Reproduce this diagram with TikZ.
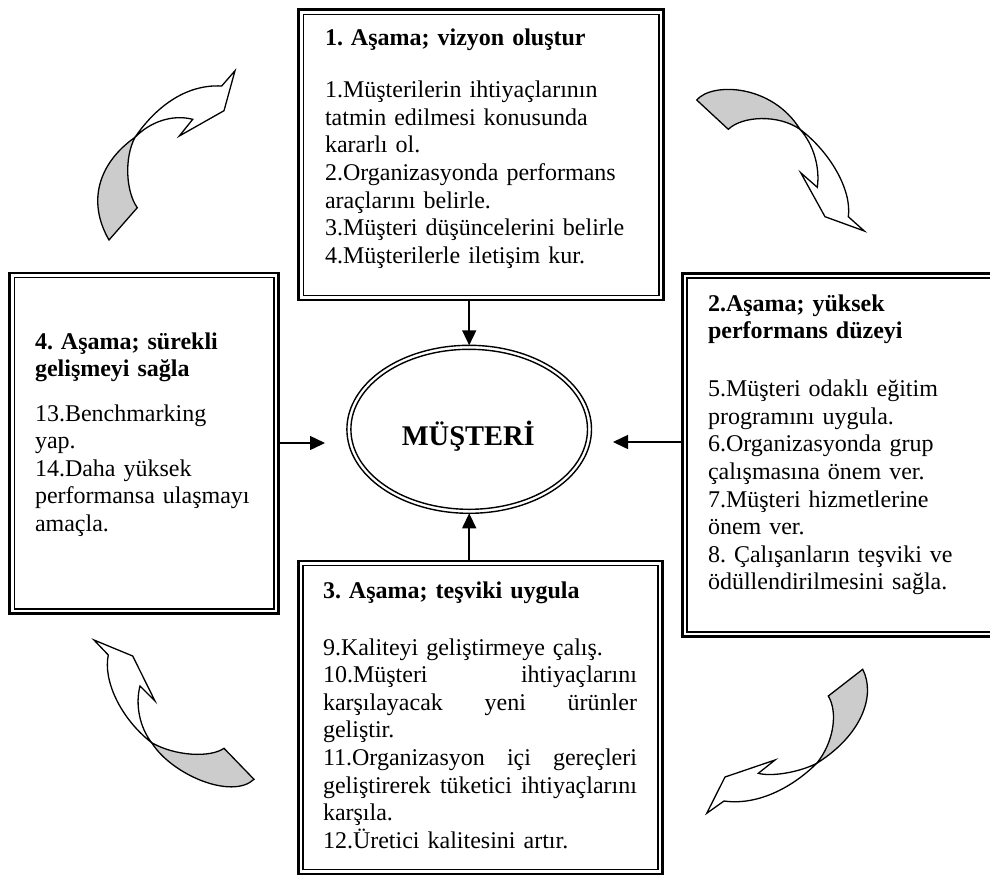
\documentclass[tikz,border=0pt]{standalone}
\usepackage{fontspec}
\setmainfont{Liberation Serif}
\usetikzlibrary{arrows.meta,shapes.geometric}
\frenchspacing
% a line of the column width with its words spread out to both edges
\newcommand{\fullline}[1]{\leavevmode\hbox to 314pt{#1}}

\begin{document}
\begin{tikzpicture}[x=1pt,y=-1pt,
  frame/.style={draw, line width=2.7pt, outer sep=0pt, inner sep=0pt, anchor=north west},
  innerframe/.style={line width=1.4pt},
  txt/.style={anchor=base west, inner sep=0pt, outer sep=0pt, align=left,
              font=\fontsize{24}{27.6}\selectfont},
  head/.style={txt, font=\fontsize{24}{27.6}\selectfont\bfseries},
  link/.style={line width=1.5pt, -{Triangle[length=15pt,width=14pt]}},
  bendline/.style={line width=1.3pt, line join=miter},
  shade/.style={bendline, fill=black!20},
]
\useasboundingbox (0,0) rectangle (990,876);
\fill[white] (0,0) rectangle (990,876);
\begin{scope}
\clip (0,0) rectangle (990,876);

% stage boxes: thick outer frame, thin inner frame
\node[frame, minimum width=364.6pt, minimum height=290.3pt] (b1) at (298.7,9.7) {};
\node[frame, minimum width=320pt,   minimum height=363.2pt] (b2) at (682.3,273.3) {};
\node[frame, minimum width=364.2pt, minimum height=313pt]   (b3) at (298.3,561) {};
\node[frame, minimum width=268.6pt, minimum height=340.3pt] (b4) at (9.7,273) {};
\foreach \b in {b1,b2,b3,b4}
  \draw[innerframe] ([shift={(4.5pt,4.5pt)}]\b.south west) rectangle ([shift={(-4.5pt,-4.5pt)}]\b.north east);

% central double ellipse
\node[ellipse, draw, line width=1.4pt, minimum width=244.6pt, minimum height=168pt,
      inner sep=0pt, outer sep=0pt] (ell) at (469.2,429.3) {};
\draw[line width=1.4pt] (ell.center) ellipse [x radius=118.3pt, y radius=80pt];
\node[anchor=base, inner sep=0pt, font=\fontsize{28.5}{30}\selectfont\bfseries] (mt) at (468.3,445.7) {MÜŞTERİ};

% stage 1
\node[head, text width=320pt] (h1) at (325,45.7) {1. Aşama; vizyon oluştur};
\node[txt, text width=325pt] (t1) at (325,97.7) {1.Müşterilerin ihtiyaçlarının\\tatmin edilmesi konusunda\\kararlı ol.\\2.Organizasyonda performans\\araçlarını belirle.\\3.Müşteri düşüncelerini belirle\\4.Müşterilerle iletişim kur.};

% stage 2
\node[head, text width=270pt] (h2) at (708,311) {2.Aşama; yüksek\\performans düzeyi};
\node[txt, text width=270pt] (t2) at (708,396.7) {5.Müşteri odaklı eğitim\\programını uygula.\\6.Organizasyonda grup\\çalışmasına önem ver.\\7.Müşteri hizmetlerine\\önem ver.\\8. Çalışanların teşviki ve\\ödüllendirilmesini sağla.};

% stage 3 (justified lines spread to the full column)
\node[head, text width=314pt] (h3) at (323,598) {3. Aşama; teşviki uygula};
\node[txt, text width=314pt] (t3) at (323,655) {9.Kaliteyi geliştirmeye çalış.\\
\fullline{10.Müşteri\hfill ihtiyaçlarını}\\
\fullline{karşılayacak\hfill yeni\hfill ürünler}\\
geliştir.\\
\fullline{11.Organizasyon\hfill içi\hfill gereçleri}\\
\fullline{geliştirerek\hfill tüketici\hfill ihtiyaçlarını}\\
karşıla.\\
12.Üretici kalitesini artır.};

% stage 4
\node[head, text width=235pt] (h4) at (35,349) {4. Aşama; sürekli\\gelişmeyi sağla};
\node[txt, text width=235pt] (t4) at (35,421) {13.Benchmarking\\yap.\\14.Daha yüksek\\performansa ulaşmayı\\amaçla.};

% connectors towards the centre
\coordinate (rtip) at (613,442);
\coordinate (ltip) at (325,443);
\draw[link] (ell.north |- b1.south) -- (ell.north);
\draw[link] (ell.south |- b3.north) -- (ell.south);
\draw[link] (b2.west |- rtip) -- (rtip);
\draw[link] (b4.east |- ltip) -- (ltip);

% twisted curved arrows (cycle direction)
% top left
\draw[shade] (109,240) .. controls (86,200) and (100,162) .. (135,137.3)
  .. controls (124,158) and (126,192) .. (137.3,207.7) -- cycle;
\draw[bendline, fill=white] (135,137.3) .. controls (155,108) and (185,84) .. (221.7,86)
  -- (235,70.7) -- (224,110.7) -- (179.3,136) -- (192.7,119.3)
  .. controls (172,114) and (150,122) .. (135,137.3) -- cycle;
% top right
\draw[shade] (696.7,100) .. controls (712,82) and (772,84) .. (800,129.3)
  .. controls (778,114) and (742,116) .. (728.3,129.3) -- cycle;
\draw[bendline, fill=white] (800,129.3) .. controls (830,152) and (852,190) .. (848.3,216.7)
  -- (864.3,231) -- (825,216.7) -- (800.7,172.7) -- (817.3,187.3)
  .. controls (820,168) and (814,145) .. (800,129.3) -- cycle;
% bottom right
\draw[shade] (828.3,696) -- (862.7,669.3) .. controls (876,695) and (862,735) .. (816.7,763.3)
  .. controls (834,742) and (838,712) .. (828.3,696) -- cycle;
\draw[bendline, fill=white] (816.7,763.3) .. controls (800,772) and (772,777) .. (758.3,773.3)
  -- (775,760) -- (725,777) -- (706.7,813.3) -- (724,801)
  .. controls (760,806) and (795,785) .. (816.7,763.3) -- cycle;
% bottom left
\draw[bendline, fill=white] (151.7,742.7) .. controls (120,718) and (103,680) .. (108.3,655)
  -- (94,640) -- (132.7,656) -- (155,701) -- (140,686)
  .. controls (135,705) and (140,728) .. (151.7,742.7) -- cycle;
\draw[shade] (151.7,742.7) .. controls (172,775) and (232,800) .. (254,779.3)
  -- (224,748.3) .. controls (210,758) and (175,756) .. (151.7,742.7) -- cycle;
\end{scope}
\end{tikzpicture}
\end{document}
